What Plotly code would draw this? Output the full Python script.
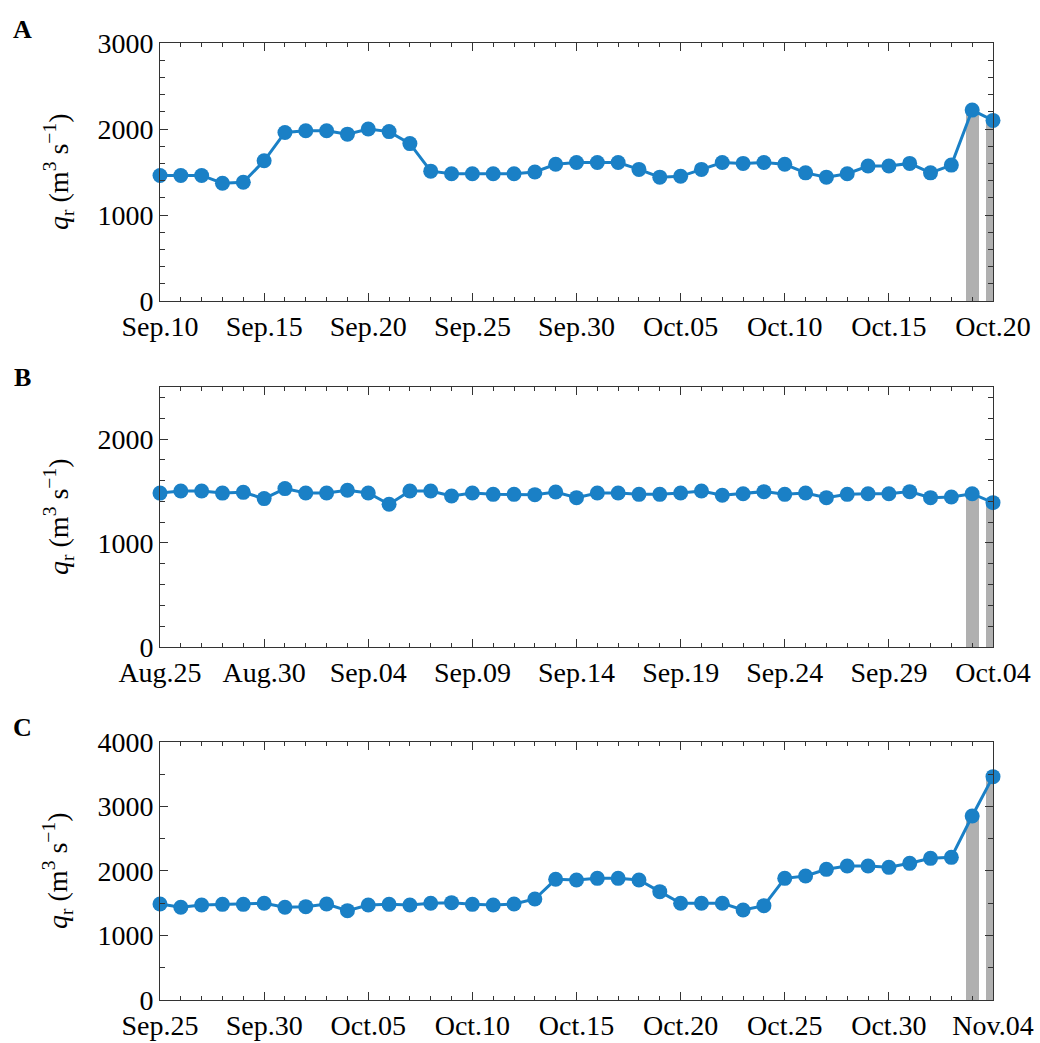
import pandas as pd
import plotly.graph_objects as go
from plotly.subplots import make_subplots

# ---- data (daily river discharge, m3/s) ----
start_a = "2016-09-10"
q_a = [1460, 1460, 1460, 1370, 1380, 1630, 1960, 1980, 1980, 1940, 2000,
       1970, 1830, 1510, 1480, 1480, 1480, 1480, 1500, 1590, 1610,
       1610, 1610, 1530, 1440, 1450, 1530, 1610, 1600, 1610, 1590,
       1490, 1440, 1480, 1570, 1570, 1600, 1490, 1580, 2220, 2100]

start_b = "2016-08-25"
q_b = [1480, 1500, 1500, 1480, 1487, 1427, 1523, 1481, 1481, 1507, 1481,
       1372, 1500, 1500, 1452, 1481, 1468, 1468, 1465, 1490, 1436,
       1481, 1481, 1468, 1468, 1481, 1500, 1459, 1474, 1494, 1468,
       1481, 1436, 1468, 1474, 1474, 1494, 1436, 1443, 1474, 1388]

start_c = "2016-09-25"
q_c = [1488, 1437, 1473, 1483, 1483, 1499, 1437, 1447, 1488, 1385, 1473,
       1483, 1473, 1499, 1509, 1483, 1473, 1488, 1566, 1871, 1860,
       1886, 1886, 1860, 1680, 1499, 1499, 1499, 1395, 1463, 1886,
       1922, 2026, 2078, 2078, 2057, 2119, 2196, 2212, 2853, 3463]

panel_labels = ["A", "B", "C"]
y_ranges = [[0, 3000], [0, 2500], [0, 4000]]
y_minor = [200, 200, 500]
n_highlight = 2  # last days shown with grey bars

LINE_COLOR = "#1a80c6"
BAR_COLOR = "#b0b0b0"
AX_COLOR = "#333333"
FONT = "Liberation Serif, Times New Roman, serif"
DAY_MS = 86400000

series = [(start_a, q_a), (start_b, q_b), (start_c, q_c)]

fig = make_subplots(rows=3, cols=1, shared_xaxes=False, vertical_spacing=0.05)

domains = [[0.7304, 1.0], [0.3689, 0.6405], [0.0, 0.2696]]

for i, (start, vals) in enumerate(series):
    row = i + 1
    dates = pd.date_range(start=start, periods=len(vals), freq="D")
    fig.add_trace(go.Bar(x=dates[-n_highlight:], y=vals[-n_highlight:],
                         width=0.63 * DAY_MS, marker=dict(color=BAR_COLOR, line_width=0),
                         showlegend=False), row=row, col=1)
    fig.add_trace(go.Scatter(x=dates, y=vals, mode="lines+markers",
                             line=dict(color=LINE_COLOR, width=3),
                             marker=dict(color=LINE_COLOR, size=15),
                             cliponaxis=False, showlegend=False), row=row, col=1)
    fig.update_xaxes(row=row, col=1, type="date", automargin=False,
                     range=[dates[0], dates[-1]],
                     tick0=dates[0], dtick=5 * DAY_MS, tickformat="%b.%d",
                     ticks="inside", ticklen=8, tickwidth=1, tickcolor=AX_COLOR,
                     minor=dict(dtick=DAY_MS, ticks="inside", ticklen=4, tickcolor=AX_COLOR),
                     showline=True, linecolor=AX_COLOR, linewidth=1, mirror="ticks",
                     showgrid=False, zeroline=False,
                     tickfont=dict(family=FONT, size=28, color="black"))
    fig.update_yaxes(row=row, col=1, range=y_ranges[i], dtick=1000, tick0=0,
                     domain=domains[i], automargin=False,
                     ticks="inside", ticklen=8, tickwidth=1, tickcolor=AX_COLOR,
                     minor=dict(dtick=y_minor[i], ticks="inside", ticklen=5, tickcolor=AX_COLOR),
                     showline=True, linecolor=AX_COLOR, linewidth=1, mirror="ticks",
                     showgrid=False, zeroline=False,
                     tickfont=dict(family=FONT, size=28, color="black"))

# y-axis titles and panel letters as annotations
plot_w = 1040 - 160 - 47
plot_h = 1043 - 43 - 43
for i, dom in enumerate(domains):
    yc = (dom[0] + dom[1]) / 2
    fig.add_annotation(xref="paper", yref="paper", x=(58 - 160) / plot_w, y=yc,
                       text="<i>q</i><sub>r</sub> (m<sup>3</sup> s<sup>−1</sup>)",
                       textangle=-90, showarrow=False, xanchor="center", yanchor="middle",
                       font=dict(family=FONT, size=28, color="black"))
    label_y = [30, 377, 727][i]
    fig.add_annotation(xref="paper", yref="paper",
                       x=(22 - 160) / plot_w, y=(1000 - label_y) / plot_h,
                       text="<b>%s</b>" % panel_labels[i], showarrow=False,
                       xanchor="center", yanchor="middle",
                       font=dict(family=FONT, size=26, color="black"))

fig.update_layout(width=1040, height=1043,
                  margin=dict(l=160, r=47, t=43, b=43, autoexpand=False),
                  plot_bgcolor="white", paper_bgcolor="white",
                  barmode="overlay", bargap=0)

fig.write_html("out.html")
